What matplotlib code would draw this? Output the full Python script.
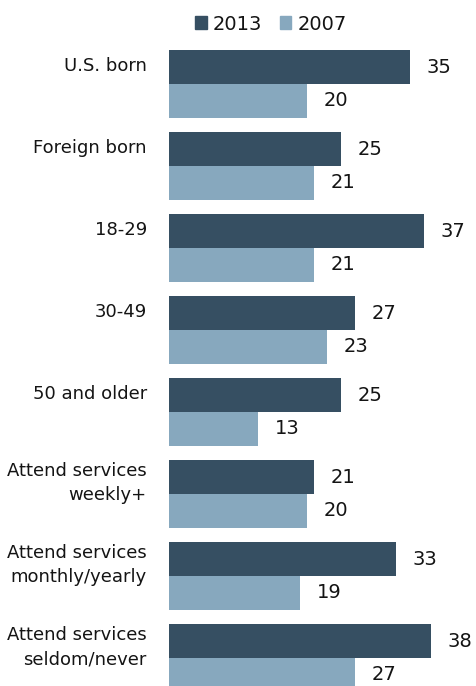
import numpy as np
import matplotlib
matplotlib.use("Agg")
import matplotlib.pyplot as plt
from matplotlib.patches import Patch

# Share saying ... by group, 2013 vs 2007
categories = ["U.S. born", "Foreign born", "18-29", "30-49", "50 and older",
              "Attend services\nweekly+", "Attend services\nmonthly/yearly",
              "Attend services\nseldom/never"]
vals_2013 = [35, 25, 37, 27, 25, 21, 33, 38]
vals_2007 = [20, 21, 21, 23, 13, 20, 19, 27]

DARK = "#364f62"
LIGHT = "#87a8be"
TEXT = "#141414"

W, H = 476, 686
fig = plt.figure(figsize=(W / 100, H / 100), dpi=100)
ax = fig.add_axes([169 / W, 0, 1 - 169 / W, 1])

bar_h = 0.41
y = np.arange(len(categories))
ax.barh(y - bar_h / 2, vals_2013, height=bar_h, color=DARK, linewidth=0)
ax.barh(y + bar_h / 2, vals_2007, height=bar_h, color=LIGHT, linewidth=0)

ax.set_xlim(0, 44.6)
ax.set_ylim(7.34, -1.024)
ax.axis("off")

for i, (a, b) in enumerate(zip(vals_2013, vals_2007)):
    ax.annotate(str(a), (a, i - bar_h / 2), xytext=(12, 0), textcoords="offset points",
                va="center", ha="left", fontsize=14, color=TEXT)
    ax.annotate(str(b), (b, i + bar_h / 2), xytext=(12, 0), textcoords="offset points",
                va="center", ha="left", fontsize=14, color=TEXT)
    nlines = categories[i].count("\n") + 1
    ax.annotate(categories[i], (0, i - bar_h / 2), xytext=(-16, 1 - 5 * (nlines - 1)),
                textcoords="offset points", va="center", ha="right",
                fontsize=13, color=TEXT, linespacing=1.45, annotation_clip=False)

handles = [Patch(color=DARK, label="2013"), Patch(color=LIGHT, label="2007")]
fig.legend(handles=handles, loc="center", bbox_to_anchor=(271 / W, 1 - 24 / H),
           ncol=2, frameon=False, fontsize=14, handlelength=0.6, handleheight=0.6,
           handletextpad=0.3, columnspacing=0.9, labelcolor=TEXT)

fig.savefig("out.png", dpi=100)
